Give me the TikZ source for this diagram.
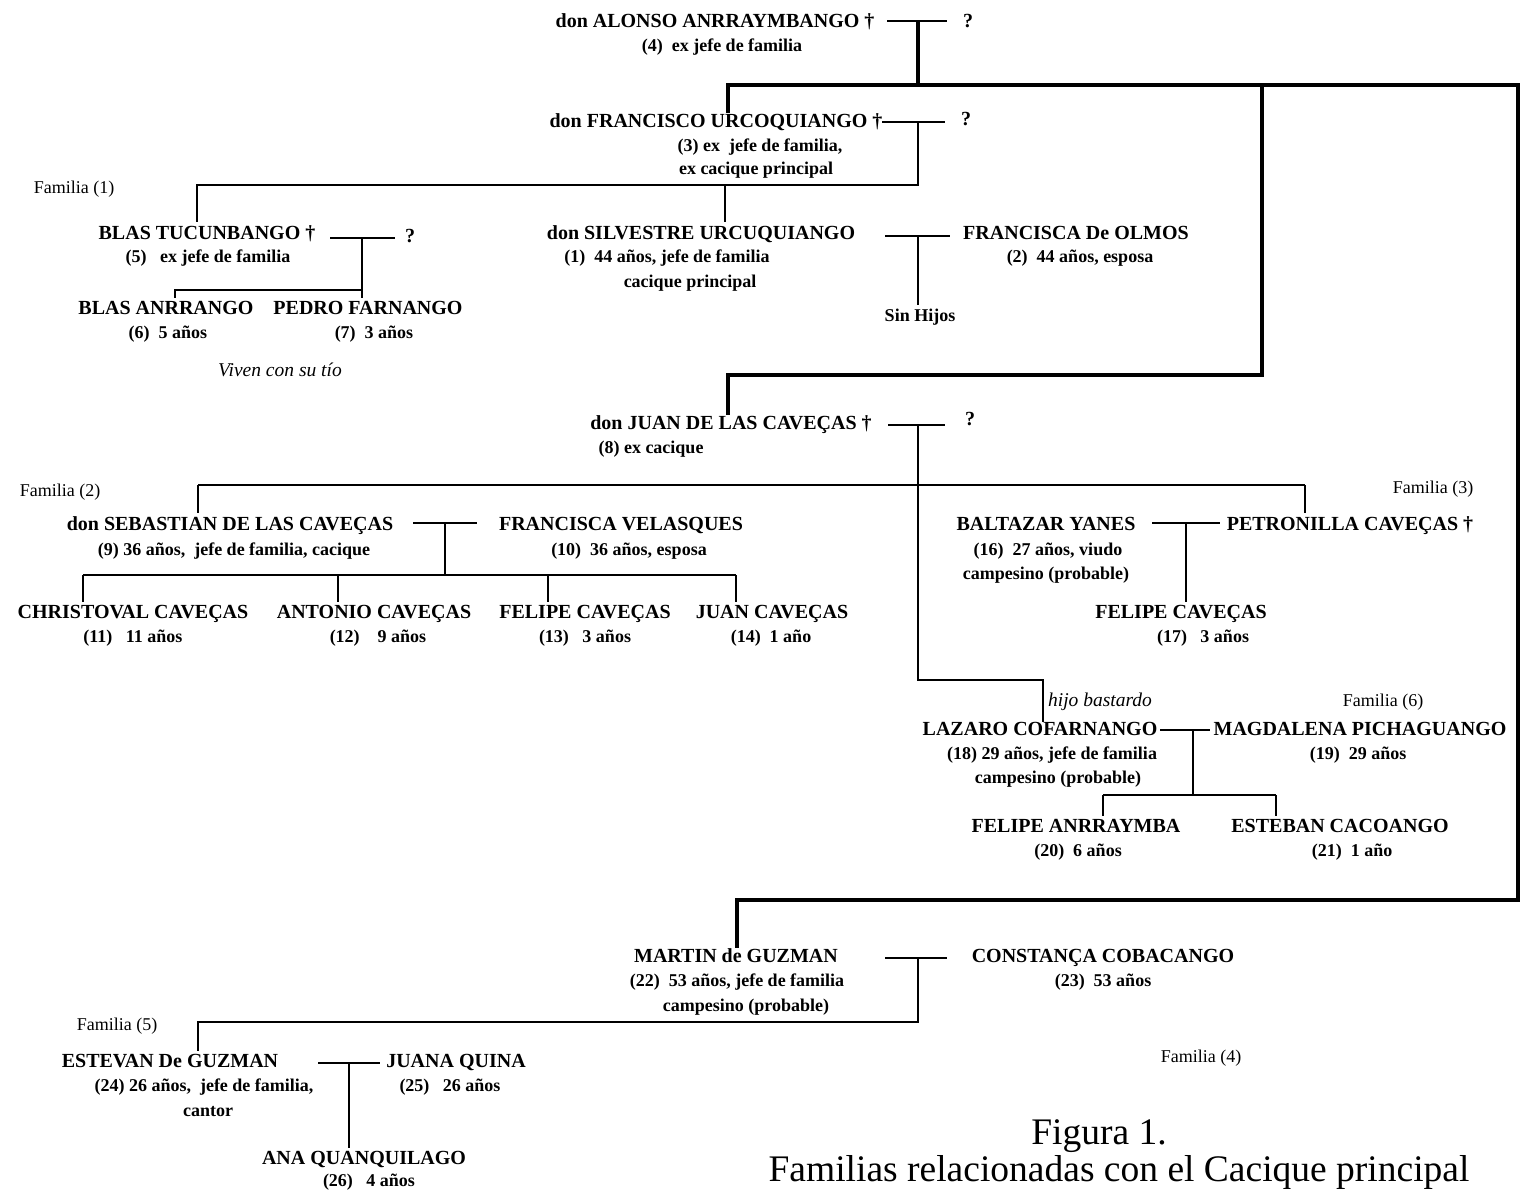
\documentclass[tikz,border=0pt]{standalone}
\usepackage{fontspec}
\setmainfont{Liberation Serif}
\begin{document}
\begin{tikzpicture}[x=1pt,y=-1pt,
  pname/.style={font=\fontsize{20}{24}\selectfont\bfseries, inner sep=0pt, anchor=base, yshift=-7pt},
  pinfo/.style={font=\fontsize{18}{22}\selectfont\bfseries, inner sep=0pt, anchor=base, yshift=-6pt},
  fam/.style={font=\fontsize{18}{21}\selectfont, inner sep=0pt, anchor=base, yshift=-6pt},
  note/.style={font=\fontsize{19.5}{23}\selectfont\itshape, inner sep=0pt, anchor=base, yshift=-6pt},
  ttl/.style={font=\fontsize{37.5}{44}\selectfont, inner sep=0pt, anchor=base, yshift=-12pt},
  thinline/.style={line width=1.8pt},
  thickline/.style={line width=3.8pt},
  drop/.style={thinline, shorten >=3pt},
]
\useasboundingbox (0,0) rectangle (1526,1195);

% ---------- people ----------
\node[pname] (alonso) at (715,20) {don ALONSO ANRRAYMBANGO †};
\node[pinfo] (alonsoI) at (722,45) {(4)\ \ ex jefe de familia};
\node[pname] (alonsoQ) at (968,20) {?};

\node[pname] (francisco) at (716,120) {don FRANCISCO URCOQUIANGO †};
\node[pinfo] (franciscoI) at (760,145) {(3) ex\ \ jefe de familia,};
\node[pinfo] (franciscoII) at (756,168) {ex cacique principal};
\node[pname] (franciscoQ) at (966,118) {?};
\node[fam] (fam1) at (74,187) {Familia (1)};

\node[pname] (blas) at (207,232) {BLAS TUCUNBANGO †};
\node[pinfo] (blasI) at (208,256) {(5)\ \ \ ex jefe de familia};
\node[pname] (blasQ) at (410,235) {?};
\node[pname] (blasA) at (166,307) {BLAS ANRRANGO};
\node[pname] (pedro) at (368,307) {PEDRO FARNANGO};
\node[pinfo] (blasAI) at (168,332) {(6)\ \ 5 años};
\node[pinfo] (pedroI) at (374,332) {(7)\ \ 3 años};
\node[note] (viven) at (280,370) {Viven con su tío};

\node[pname] (silvestre) at (701,232) {don SILVESTRE URCUQUIANGO};
\node[pinfo] (silvestreI) at (667,256) {(1)\ \ 44 años, jefe de familia};
\node[pinfo] (silvestreII) at (690,281) {cacique principal};
\node[pname] (olmos) at (1076,232) {FRANCISCA De OLMOS};
\node[pinfo] (olmosI) at (1080,256) {(2)\ \ 44 años, esposa};
\node[pinfo] (sinhijos) at (920,315) {Sin Hijos};

\node[pname] (juan) at (731,422) {don JUAN DE LAS CAVEÇAS †};
\node[pinfo] (juanI) at (651,447) {(8) ex cacique};
\node[pname] (juanQ) at (970,418) {?};
\node[fam] (fam2) at (60,490) {Familia (2)};
\node[fam] (fam3) at (1433,487) {Familia (3)};

\node[pname] (sebastian) at (230,523) {don SEBASTIAN DE LAS CAVEÇAS};
\node[pinfo] (sebastianI) at (234,549) {(9) 36 años,\ \ jefe de familia, cacique};
\node[pname] (velasques) at (621,523) {FRANCISCA VELASQUES};
\node[pinfo] (velasquesI) at (629,549) {(10)\ \ 36 años, esposa};

\node[pname] (christoval) at (133,611) {CHRISTOVAL CAVEÇAS};
\node[pname] (antonio) at (374,611) {ANTONIO CAVEÇAS};
\node[pname] (felipeS) at (585,611) {FELIPE CAVEÇAS};
\node[pname] (juanS) at (772,611) {JUAN CAVEÇAS};
\node[pinfo] (christovalI) at (133,636) {(11)\ \ \ 11 años};
\node[pinfo] (antonioI) at (378,636) {(12)\ \ \ \ 9 años};
\node[pinfo] (felipeSI) at (585,636) {(13)\ \ \ 3 años};
\node[pinfo] (juanSI) at (771,636) {(14)\ \ 1 año};

\node[pname] (baltazar) at (1046,523) {BALTAZAR YANES};
\node[pinfo] (baltazarI) at (1048,549) {(16)\ \ 27 años, viudo};
\node[pinfo] (baltazarII) at (1046,573) {campesino (probable)};
\node[pname] (petronilla) at (1350,523) {PETRONILLA CAVEÇAS †};
\node[pname] (felipeB) at (1181,611) {FELIPE CAVEÇAS};
\node[pinfo] (felipeBI) at (1203,636) {(17)\ \ \ 3 años};

\node[note] (bastardo) at (1100,700) {hijo bastardo};
\node[fam] (fam6) at (1383,700) {Familia (6)};
\node[pname] (lazaro) at (1040,728) {LAZARO COFARNANGO};
\node[pinfo] (lazaroI) at (1052,753) {(18) 29 años, jefe de familia};
\node[pinfo] (lazaroII) at (1058,777) {campesino (probable)};
\node[pname] (magdalena) at (1360,728) {MAGDALENA PICHAGUANGO};
\node[pinfo] (magdalenaI) at (1358,753) {(19)\ \ 29 años};
\node[pname] (felipeL) at (1076,825) {FELIPE ANRRAYMBA};
\node[pname] (esteban) at (1340,825) {ESTEBAN CACOANGO};
\node[pinfo] (felipeLI) at (1078,850) {(20)\ \ 6 años};
\node[pinfo] (estebanI) at (1352,850) {(21)\ \ 1 año};

\node[pname] (martin) at (736,955) {MARTIN de GUZMAN};
\node[pinfo] (martinI) at (737,980) {(22)\ \ 53 años, jefe de familia};
\node[pinfo] (martinII) at (746,1005) {campesino (probable)};
\node[pname] (constanca) at (1103,955) {CONSTANÇA COBACANGO};
\node[pinfo] (constancaI) at (1103,980) {(23)\ \ 53 años};
\node[fam] (fam5) at (117,1024) {Familia (5)};
\node[fam] (fam4) at (1201,1056) {Familia (4)};

\node[pname] (estevan) at (170,1060) {ESTEVAN De GUZMAN};
\node[pinfo] (estevanI) at (204,1085) {(24) 26 años,\ \ jefe de familia,};
\node[pinfo] (estevanII) at (208,1110) {cantor};
\node[pname] (juana) at (456,1060) {JUANA QUINA};
\node[pinfo] (juanaI) at (450,1085) {(25)\ \ \ 26 años};
\node[pname] (ana) at (364,1157) {ANA QUANQUILAGO};
\node[pinfo] (anaI) at (369,1180) {(26)\ \ \ 4 años};

\node[ttl] (fig) at (1099,1132) {Figura 1.};
\node[ttl] (figcap) at (1119,1169) {Familias relacionadas con el Cacique principal};

% ---------- junction points ----------
\coordinate (aL) at (887,21);   \coordinate (aR) at (947,21);   \coordinate (aJ) at (918,21);
\coordinate (barL) at (728,85); \coordinate (barM) at (1262,85); \coordinate (barR) at (1518,85);
\coordinate (jBarR) at (1262,375); \coordinate (jBarL) at (728,375);
\coordinate (mBarR) at (1518,900); \coordinate (mBarL) at (737,900);

\coordinate (fL) at (882,122);  \coordinate (fR) at (945,122);  \coordinate (fJ) at (918,122);
\coordinate (f1R) at (918,185); \coordinate (f1L) at (197,185); \coordinate (f1S) at (725,185);

\coordinate (bL) at (330,238);  \coordinate (bR) at (395,238);  \coordinate (bJ) at (362,238);
\coordinate (bBarR) at (362,290); \coordinate (bBarL) at (175,290);

\coordinate (sL) at (885,236);  \coordinate (sR) at (950,236);  \coordinate (sJ) at (918,236);

\coordinate (jL) at (888,425);  \coordinate (jR) at (945,425);  \coordinate (jJ) at (918,425);
\coordinate (jCorner) at (918,680); \coordinate (jBast) at (1043,680);
\coordinate (f2L) at (198,485); \coordinate (f2R) at (1305,485);

\coordinate (sebL) at (413,523); \coordinate (sebR) at (477,523); \coordinate (sebJ) at (445,523);
\coordinate (sebBar) at (445,575); \coordinate (sebBarL) at (83,575); \coordinate (sebBarR) at (736,575);
\coordinate (sebBarA) at (338,575); \coordinate (sebBarF) at (548,575);

\coordinate (balL) at (1152,523); \coordinate (balR) at (1220,523); \coordinate (balJ) at (1186,523);

\coordinate (lzL) at (1160,730); \coordinate (lzR) at (1210,730); \coordinate (lzJ) at (1193,730);
\coordinate (lzBar) at (1193,795); \coordinate (lzBarL) at (1103,795); \coordinate (lzBarR) at (1276,795);

\coordinate (mgL) at (885,958); \coordinate (mgR) at (947,958); \coordinate (mgJ) at (918,958);
\coordinate (f5R) at (918,1022); \coordinate (f5L) at (198,1022);

\coordinate (evL) at (318,1063); \coordinate (evR) at (380,1063); \coordinate (evJ) at (349,1063);

% ---------- main line of the caciques ----------
\draw[thinline] (aL) -- (aR);
\draw[thickline] (aJ) -- (aJ |- barL);
\draw[thickline, line cap=rect] (barL) -- (barR);
\draw[thickline] (barL) -- (barL |- francisco.north);
\draw[thickline, line join=miter] (barM) -- (jBarR) -- (jBarL) -- (jBarL |- juan.north);
\draw[thickline, line join=miter] (barR) -- (mBarR) -- (mBarL) -- (mBarL |- martin.north);

% ---------- Francisco's family ----------
\draw[thinline] (fL) -- (fR);
\draw[drop, line join=miter] (fJ) -- (f1R) -- (f1L) -- (f1L |- blas.north);
\draw[drop] (f1S) -- (f1S |- silvestre.north);

% ---------- Blas Tucunbango ----------
\draw[thinline] (bL) -- (bR);
\draw[drop] (bJ) -- (bJ |- pedro.north);
\draw[drop, line join=miter] (bBarR) -- (bBarL) -- (bBarL |- blasA.north);

% ---------- Silvestre ----------
\draw[thinline] (sL) -- (sR);
\draw[drop] (sJ) -- (sJ |- sinhijos.north);

% ---------- Juan de las Caveças ----------
\draw[thinline] (jL) -- (jR);
\draw[thinline, line join=miter] (jJ) -- (jCorner) -- (jBast) -- (jBast |- lazaro.north);
\draw[thinline] (f2L) -- (f2R);
\draw[drop] (f2L) -- (f2L |- sebastian.north);
\draw[drop] (f2R) -- (f2R |- petronilla.north);

% ---------- Sebastian ----------
\draw[thinline] (sebL) -- (sebR);
\draw[thinline] (sebJ) -- (sebBar);
\draw[thinline] (sebBarL) -- (sebBarR);
\draw[drop] (sebBarL) -- (sebBarL |- christoval.north);
\draw[drop] (sebBarA) -- (sebBarA |- antonio.north);
\draw[drop] (sebBarF) -- (sebBarF |- felipeS.north);
\draw[drop] (sebBarR) -- (sebBarR |- juanS.north);

% ---------- Baltazar ----------
\draw[thinline] (balL) -- (balR);
\draw[drop] (balJ) -- (balJ |- felipeB.north);

% ---------- Lazaro ----------
\draw[thinline] (lzL) -- (lzR);
\draw[thinline] (lzJ) -- (lzBar);
\draw[thinline] (lzBarL) -- (lzBarR);
\draw[drop] (lzBarL) -- (lzBarL |- felipeL.north);
\draw[drop] (lzBarR) -- (lzBarR |- esteban.north);

% ---------- Martin ----------
\draw[thinline] (mgL) -- (mgR);
\draw[drop, line join=miter] (mgJ) -- (f5R) -- (f5L) -- (f5L |- estevan.north);

% ---------- Estevan ----------
\draw[thinline] (evL) -- (evR);
\draw[drop] (evJ) -- (evJ |- ana.north);
\end{tikzpicture}
\end{document}
